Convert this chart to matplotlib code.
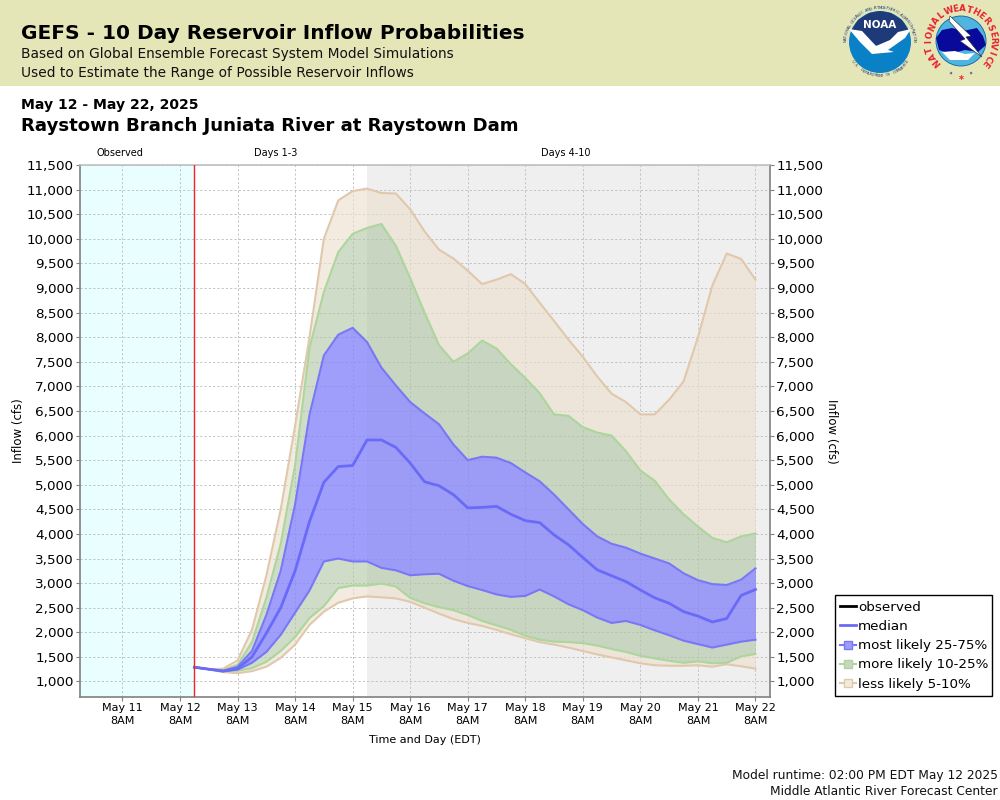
import numpy as np
import matplotlib
matplotlib.use("Agg")
import matplotlib.pyplot as plt
from matplotlib.lines import Line2D
from matplotlib.patches import Circle, Polygon, Rectangle

steps = list(range(1, 41))  # 6-hour steps after May 12 8AM
high5 = [1290,1250,1260,1430,2050,3150,4500,6200,8000,10000,10780,10970,11020,10930,10920,10600,10150,9780,9600,9350,
         9080,9170,9280,9080,8700,8330,7950,7600,7200,6850,6680,6430,6430,6730,7100,8000,9050,9700,9590,9170]
high10 = [1290,1250,1230,1340,1800,2700,3800,5400,7780,8920,9730,10100,10220,10300,9860,9200,8500,7840,7500,7670,
          7930,7770,7450,7170,6860,6430,6400,6170,6060,6000,5680,5290,5080,4700,4400,4150,3920,3830,3950,4010]
high25 = [1290,1250,1220,1300,1620,2350,3250,4600,6420,7630,8050,8190,7900,7380,7020,6680,6450,6230,5820,5500,
          5570,5550,5440,5250,5070,4800,4500,4200,3950,3800,3720,3600,3500,3400,3200,3060,2980,2960,3070,3300]
median = [1290,1250,1210,1260,1500,1980,2500,3250,4250,5050,5370,5390,5910,5910,5760,5440,5060,4980,4800,4530,
          4540,4560,4400,4270,4230,3980,3780,3520,3270,3150,3030,2860,2700,2590,2420,2330,2210,2280,2750,2870]
low25 = [1290,1250,1210,1240,1380,1600,1950,2400,2850,3440,3500,3440,3440,3310,3260,3160,3180,3190,3050,2940,
         2860,2770,2720,2740,2870,2730,2570,2450,2300,2190,2230,2150,2040,1940,1830,1760,1690,1750,1810,1850]
low10 = [1290,1250,1210,1220,1270,1400,1620,1905,2290,2530,2900,2950,2950,2990,2930,2700,2590,2510,2450,2350,
         2230,2140,2050,1930,1850,1810,1800,1780,1730,1660,1600,1520,1470,1420,1380,1410,1370,1380,1510,1560]
low5 = [1290,1250,1190,1170,1210,1300,1480,1750,2150,2420,2600,2690,2730,2710,2690,2620,2500,2380,2270,2190,
        2130,2050,1960,1880,1800,1750,1690,1620,1550,1490,1430,1370,1330,1320,1320,1330,1300,1350,1310,1260]
day_labels = ["May 11","May 12","May 13","May 14","May 15","May 16","May 17","May 18","May 19","May 20","May 21","May 22"]
day_offsets = list(range(-1, 11))
y_ticks = list(range(1000, 11501, 500))

days = np.array(steps) / 4.0
plt.rcParams['font.family'] = ['DejaVu Sans']
fig = plt.figure(figsize=(10, 8), dpi=100)
W, H = 1000.0, 800.0
def fx(p): return p / W
def fy(p): return 1 - p / H

# header band
fig.patches.append(Rectangle((0, fy(86)), 1, 86 / H, transform=fig.transFigure, fc='#e5e6b8', ec='none', zorder=-5))
fig.text(fx(21), fy(39), "GEFS - 10 Day Reservoir Inflow Probabilities", fontsize=14.5, fontweight='bold', color='black')
fig.text(fx(21), fy(58), "Based on Global Ensemble Forecast System Model Simulations", fontsize=9.95, color='#111111')
fig.text(fx(21), fy(77), "Used to Estimate the Range of Possible Reservoir Inflows", fontsize=9.95, color='#111111')
fig.text(fx(21), fy(109), "May 12 - May 22, 2025", fontsize=10.1, fontweight='bold', color='black')
fig.text(fx(21), fy(131), "Raystown Branch Juniata River at Raystown Dam", fontsize=13.1, fontweight='bold', color='black')

ax = fig.add_axes([fx(80), fy(697), 690 / W, 532 / H])
ax.set_xlim(-100 / 57.55, 590 / 57.55)
ax.set_ylim(1000 - 15.5 * 20.33, 11500)

# shaded periods
ax.axvspan(ax.get_xlim()[0], days[0], color='#e9ffff', lw=0, zorder=0)
ax.axvspan(days[12], ax.get_xlim()[1], color='#efefef', lw=0, zorder=0)

ax.set_xticks(day_offsets)
ax.set_xticklabels([f"{d}\n8AM" for d in day_labels], fontsize=8, linespacing=1.3)
ax.set_yticks(y_ticks)
ax.set_yticklabels([f"{v:,}" for v in y_ticks], fontsize=9.7)
ax.grid(True, color='#c2c2c2', ls=(0, (2.2, 2.2)), lw=0.7, zorder=1)
ax.set_axisbelow(True)
ax.tick_params(axis='both', color='#808080', length=3, width=0.8, pad=1.5)
for s in ('left', 'bottom', 'right'):
    ax.spines[s].set_color('#808080')
    ax.spines[s].set_linewidth(1.2)
ax.spines['top'].set_color('#c0c0c0')
ax.spines['top'].set_linewidth(1.2)

tan_f, green_f, blue_f = (236/255,223/255,205/255), (175/255,197/255,163/255), (135/255,135/255,250/255)
tan_l, green_l, blue_l = '#e0c8ac', '#acd69c', '#7878f6'
ax.fill_between(days, low5, low10, color=tan_f, alpha=0.62, lw=0, zorder=2)
ax.fill_between(days, high10, high5, color=tan_f, alpha=0.62, lw=0, zorder=2)
ax.fill_between(days, low10, low25, color=green_f, alpha=0.6, lw=0, zorder=2)
ax.fill_between(days, high25, high10, color=green_f, alpha=0.6, lw=0, zorder=2)
ax.fill_between(days, low25, high25, color=blue_f, alpha=0.8, lw=0, zorder=2)
for series, col, lw in ((low5, tan_l, 1.5), (high5, tan_l, 1.5), (low10, green_l, 1.5), (high10, green_l, 1.5),
                        (low25, blue_l, 1.5), (high25, blue_l, 1.5)):
    ax.plot(days, series, color=col, lw=lw, zorder=3, solid_joinstyle='round')
ax.plot(days, median, color='#6a6af8', lw=2.0, zorder=4, solid_joinstyle='round')
ax.axvline(days[0], color='#f82020', lw=1.0, zorder=5)

ax.set_ylabel("Inflow (cfs)", fontsize=8.5)
ax.yaxis.set_label_coords((25 - 80) / 690, 0.5)
ax.set_xlabel("Time and Day (EDT)", fontsize=8)
ax.xaxis.set_label_coords((425 - 80) / 690, -(735 - 697) / 532)

axr = ax.twinx()
axr.set_ylim(ax.get_ylim())
axr.set_yticks(y_ticks)
axr.set_yticklabels([f"{v:,}" for v in y_ticks], fontsize=9.7)
axr.tick_params(axis='y', color='#808080', length=3, width=0.8, pad=1.5)
for sp in axr.spines.values():
    sp.set_visible(False)
axr.set_ylabel("Inflow (cfs)", fontsize=8.5, rotation=270)
axr.yaxis.set_label_coords((838 - 80) / 690, 0.5)

fig.text(fx(120), fy(156), "Observed", fontsize=7, ha='center')
fig.text(fx(276), fy(156), "Days 1-3", fontsize=7, ha='center')
fig.text(fx(566), fy(156), "Days 4-10", fontsize=7, ha='center')

handles = [
    Line2D([], [], color='black', lw=2, label='observed'),
    Line2D([], [], color='#6a6af8', lw=2, label='median'),
    Line2D([], [], color=blue_l, lw=1.5, marker='s', ms=5.5, mfc='#9b9bfa', mec=blue_l, label='most likely 25-75%'),
    Line2D([], [], color=green_l, lw=1.5, marker='s', ms=5.5, mfc='#c8d6c0', mec=green_l, label='more likely 10-25%'),
    Line2D([], [], color=tan_l, lw=1.5, marker='s', ms=5.5, mfc='#f2eae0', mec=tan_l, label='less likely 5-10%'),
]
leg = fig.legend(handles=handles, loc='lower left', bbox_to_anchor=(fx(835), fy(696), 157 / W, 105 / H), mode='expand',
                 fontsize=9.7, frameon=True, fancybox=False, edgecolor='black', framealpha=1,
                 handlelength=1.15, handletextpad=0.15, borderpad=0.4, labelspacing=0.46, borderaxespad=0)
leg.get_frame().set_linewidth(1.0)

fig.text(fx(998), fy(779), "Model runtime: 02:00 PM EDT May 12 2025", fontsize=8.8, ha='right', color='#111111')
fig.text(fx(998), fy(795), "Middle Atlantic River Forecast Center", fontsize=8.8, ha='right', color='#111111')

# logos
lg = fig.add_axes([fx(820), fy(86), 180 / W, 86 / H])
lg.set_xlim(820, 1000); lg.set_ylim(86, 0); lg.axis('off'); lg.patch.set_alpha(0)

def ring(cx, cy, r, text, a0, a1, size, color, weight='normal', flip=False):
    angs = np.linspace(a0, a1, len(text))
    for ch, a in zip(text, angs):
        x = cx + r * np.cos(np.radians(a)); y = cy - r * np.sin(np.radians(a))
        rot = a - 90 if not flip else a + 90
        lg.text(x, y, ch, fontsize=size, color=color, ha='center', va='center', rotation=rot, fontweight=weight)

# NOAA
cx, cy = 880, 42
lg.add_patch(Circle((cx, cy), 31, fc='#0a80c6', ec='none'))
lg.add_patch(Polygon([(851, 31), (858, 20), (869, 13), (880, 11), (891, 13), (902, 20), (909, 31), (898, 33), (888, 43), (880, 47), (872, 43), (862, 33)],
                     fc='#1f3a78', ec='none'))
lg.add_patch(Polygon([(849, 29), (862, 31), (876, 46), (890, 40), (898, 32), (911, 29), (905, 38), (888, 50), (894, 52), (872, 54), (860, 42)],
                     fc='white', ec='none'))
lg.text(cx, 25.5, "NOAA", fontsize=7.5, color='white', ha='center', va='center', fontweight='bold')
ring(cx, cy, 34, "NATIONAL OCEANIC AND ATMOSPHERIC ADMINISTRATION", 178, 2, 2.8, '#1f3a78')
ring(cx, cy, 34, "U.S. DEPARTMENT OF COMMERCE", 215, 325, 2.8, '#1f3a78', flip=True)

# NWS
cx, cy = 961, 41
lg.add_patch(Circle((cx, cy), 25, fc='#4fb4e0', ec='#1060a0', lw=0.6))
lg.add_patch(Polygon([(936, 38), (942, 30), (952, 28), (963, 31), (977, 28), (983, 36), (986, 45), (978, 52), (965, 50), (950, 54), (939, 50)],
                     fc='#0a0a9a', ec='none'))
lg.add_patch(Polygon([(942, 52), (955, 51), (965, 54), (975, 53), (968, 60), (950, 60)], fc='white', ec='none'))
lg.add_patch(Polygon([(950, 16), (971, 36), (966, 37), (982, 57), (960, 41), (965, 39), (949, 21)], fc='white', ec='#222222', lw=0.4))
ring(cx, cy, 32, "NATIONAL", 222, 128, 6.2, '#e8202a', 'bold')
ring(cx, cy, 32, "WEATHER", 112, 38, 6.2, '#e8202a', 'bold')
ring(cx, cy, 32, "SERVICE", 24, -42, 6.2, '#e8202a', 'bold')
ring(cx, cy, 32, "*", 270, 270, 7, '#e8202a', 'bold')
ring(cx, cy, 31, "*", 252, 252, 4, '#1f3a78', 'bold')
ring(cx, cy, 31, "*", 288, 288, 4, '#1f3a78', 'bold')

fig.savefig("out.png", dpi=100, facecolor='white')
